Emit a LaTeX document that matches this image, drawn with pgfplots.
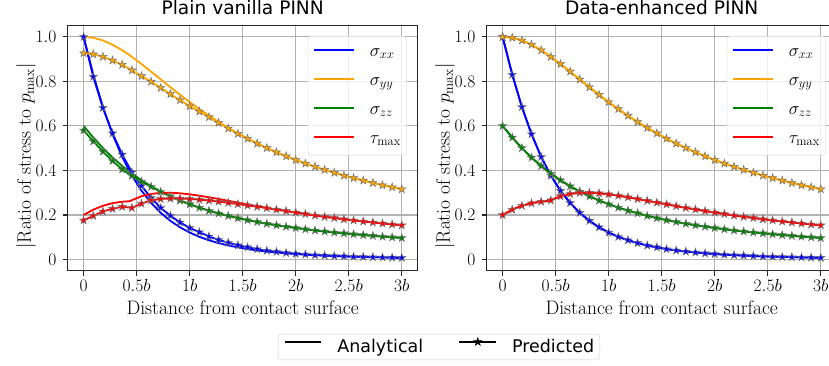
\RequirePackage{fix-cm}
\documentclass[border=0pt]{standalone}
\usepackage{fontspec}
\usepackage{pgfplots}
\usepackage{pgfplotstable}
\pgfplotsset{compat=1.18}
\newfontfamily\djv{DejaVu Sans}

\definecolor{cblue}{RGB}{0,0,255}
\definecolor{corange}{RGB}{255,165,0}
\definecolor{cgreen}{RGB}{0,128,0}
\definecolor{cred}{RGB}{255,0,0}

\pgfdeclareplotmark{fstar}{%
 \pgfpathmoveto{\pgfpointpolar{90}{\pgfplotmarksize}}%
 \pgfpathlineto{\pgfpointpolar{126}{0.382*\pgfplotmarksize}}%
 \pgfpathlineto{\pgfpointpolar{162}{\pgfplotmarksize}}%
 \pgfpathlineto{\pgfpointpolar{198}{0.382*\pgfplotmarksize}}%
 \pgfpathlineto{\pgfpointpolar{234}{\pgfplotmarksize}}%
 \pgfpathlineto{\pgfpointpolar{270}{0.382*\pgfplotmarksize}}%
 \pgfpathlineto{\pgfpointpolar{306}{\pgfplotmarksize}}%
 \pgfpathlineto{\pgfpointpolar{342}{0.382*\pgfplotmarksize}}%
 \pgfpathlineto{\pgfpointpolar{18}{\pgfplotmarksize}}%
 \pgfpathlineto{\pgfpointpolar{54}{0.382*\pgfplotmarksize}}%
 \pgfpathclose
 \pgfusepathqfillstroke}

% analytical solution (with the kink point of tau_max)
\pgfplotstableread{
x sxx syy szz tau
0.000000 1.000000 1.000000 0.600000 0.200000
0.090909 0.830535 0.995893 0.547928 0.223982
0.181818 0.685284 0.983870 0.500746 0.241562
0.272727 0.562828 0.964764 0.458278 0.253243
0.363636 0.461062 0.939793 0.420257 0.259768
0.436500 0.392783 0.916494 0.392783 0.261856
0.454545 0.377461 0.910366 0.386348 0.266453
0.545455 0.309371 0.877896 0.356180 0.284263
0.636364 0.254230 0.843661 0.329367 0.294716
0.727273 0.209708 0.808736 0.305533 0.299514
0.818182 0.173803 0.773958 0.284328 0.300078
0.909091 0.144799 0.739940 0.265422 0.297571
1.000000 0.121320 0.707107 0.248528 0.292894
1.090909 0.102243 0.675725 0.233390 0.286741
1.181818 0.086663 0.645944 0.219782 0.279641
1.272727 0.073905 0.617827 0.207520 0.271961
1.363636 0.063382 0.591364 0.196424 0.263991
1.454545 0.054650 0.566529 0.186354 0.255940
1.545455 0.047377 0.543248 0.177188 0.247936
1.636364 0.041282 0.521450 0.168820 0.240084
1.727273 0.036145 0.501036 0.161154 0.232446
1.818182 0.031795 0.481918 0.154114 0.225062
1.909091 0.028116 0.464009 0.147638 0.217947
2.000000 0.024922 0.447214 0.141641 0.211146
2.090909 0.022198 0.431455 0.136096 0.204629
2.181818 0.019847 0.416655 0.130951 0.198404
2.272727 0.017794 0.402739 0.126160 0.192473
2.363636 0.016030 0.389640 0.121701 0.186805
2.454545 0.014473 0.377297 0.117531 0.181412
2.545455 0.013114 0.365653 0.113630 0.176270
2.636364 0.011915 0.354654 0.109971 0.171370
2.727273 0.010853 0.344254 0.106532 0.166701
2.818182 0.009907 0.334410 0.103295 0.162252
2.909091 0.009053 0.325081 0.100240 0.158014
3.000000 0.008328 0.316228 0.097367 0.153950
}\ana

% predicted, plain vanilla PINN
\pgfplotstableread{
x sxx syy szz tau
0.000000 1.000 0.927 0.580 0.176
0.090909 0.821 0.922 0.531 0.196
0.181818 0.681 0.911 0.485 0.216
0.272727 0.567 0.894 0.443 0.228
0.363636 0.472 0.875 0.405 0.237
0.454545 0.392 0.850 0.376 0.232
0.545455 0.331 0.824 0.350 0.251
0.636364 0.277 0.799 0.327 0.266
0.727273 0.232 0.771 0.304 0.272
0.818182 0.197 0.743 0.284 0.274
0.909091 0.167 0.716 0.265 0.274
1.000000 0.142 0.689 0.248 0.272
1.090909 0.123 0.665 0.233 0.269
1.181818 0.104 0.640 0.219 0.265
1.272727 0.088 0.614 0.207 0.260
1.363636 0.076 0.589 0.196 0.255
1.454545 0.064 0.565 0.186 0.249
1.545455 0.055 0.543 0.177 0.243
1.636364 0.047 0.521 0.169 0.237
1.727273 0.040 0.501 0.161 0.231
1.818182 0.035 0.482 0.154 0.224
1.909091 0.030 0.464 0.148 0.218
2.000000 0.026 0.447 0.142 0.211
2.090909 0.023 0.431 0.136 0.205
2.181818 0.020 0.417 0.131 0.198
2.272727 0.018 0.403 0.126 0.192
2.363636 0.016 0.390 0.122 0.187
2.454545 0.015 0.377 0.118 0.181
2.545455 0.013 0.366 0.114 0.176
2.636364 0.012 0.355 0.110 0.171
2.727273 0.011 0.344 0.107 0.167
2.818182 0.010 0.334 0.103 0.162
2.909091 0.009 0.325 0.100 0.158
3.000000 0.008 0.316 0.097 0.154
}\predL

% predicted, data-enhanced PINN
\pgfplotstableread{
x sxx syy szz tau
0.000000 1.000 1.000 0.600 0.200
0.090909 0.830 0.996 0.548 0.224
0.181818 0.685 0.984 0.501 0.242
0.272727 0.563 0.965 0.458 0.253
0.363636 0.461 0.940 0.420 0.260
0.454545 0.377 0.910 0.386 0.266
0.545455 0.309 0.878 0.356 0.284
0.636364 0.254 0.844 0.329 0.295
0.727273 0.210 0.809 0.306 0.300
0.818182 0.174 0.774 0.284 0.300
0.909091 0.145 0.740 0.265 0.298
1.000000 0.121 0.707 0.249 0.293
1.090909 0.102 0.676 0.233 0.287
1.181818 0.087 0.646 0.220 0.280
1.272727 0.074 0.618 0.208 0.272
1.363636 0.063 0.591 0.196 0.264
1.454545 0.055 0.567 0.186 0.256
1.545455 0.047 0.543 0.177 0.248
1.636364 0.041 0.521 0.169 0.240
1.727273 0.036 0.501 0.161 0.232
1.818182 0.032 0.482 0.154 0.225
1.909091 0.028 0.464 0.148 0.218
2.000000 0.025 0.447 0.142 0.211
2.090909 0.022 0.431 0.136 0.205
2.181818 0.020 0.417 0.131 0.198
2.272727 0.018 0.403 0.126 0.192
2.363636 0.016 0.390 0.122 0.187
2.454545 0.014 0.377 0.118 0.181
2.545455 0.013 0.366 0.114 0.176
2.636364 0.012 0.355 0.110 0.171
2.727273 0.011 0.344 0.107 0.167
2.818182 0.010 0.334 0.103 0.162
2.909091 0.009 0.325 0.100 0.158
3.000000 0.008 0.316 0.097 0.154
}\predR

\pgfplotsset{
  myax/.style={
    scale only axis, width=350pt, height=245pt,
    xmin=-0.15, xmax=3.15, ymin=-0.05, ymax=1.05,
    xtick={0,0.5,1,1.5,2,2.5,3},
    xticklabels={$0$,$0.5b$,$1b$,$1.5b$,$2b$,$2.5b$,$3b$},
    ytick={0,0.2,0.4,0.6,0.8,1.0},
    yticklabels={$0$,$0.2$,$0.4$,$0.6$,$0.8$,$1.0$},
    grid=major, grid style={color=black!30, line width=1.1pt},
    axis line style={black!85, line width=1.1pt},
    tick align=outside, major tick length=5pt,
    tick style={black!85, line width=1.1pt},
    xtick pos=left, ytick pos=left,
    tick label style={font=\fontsize{17.5}{20}\selectfont, inner sep=0pt},
    xticklabel style={anchor=base, yshift=-16pt},
    yticklabel style={anchor=east, xshift=-6pt},
    label style={font=\fontsize{19.5}{23}\selectfont},
    xlabel={Distance from contact surface},
    ylabel={$\left|\mathrm{Ratio\ of\ stress\ to\ }p_{\max}\right|$},
    xlabel style={at={(axis description cs:0.5,-0.1808)}, anchor=base},
    ylabel style={at={(axis description cs:-0.105,0.468)}, anchor=base},
    title style={font=\djv\fontsize{18.6}{22}\selectfont, at={(axis description cs:0.5,1)}, anchor=base, yshift=5pt},
    legend cell align=left,
    legend style={at={(0.9686,0.958)}, anchor=north east,
      draw=black!20, rounded corners=3pt,
      fill=white, fill opacity=0.8, text opacity=1, draw opacity=1,
      font=\fontsize{18}{21}\selectfont,
      inner xsep=5.6pt, inner ysep=1.5pt, column sep=14.4pt, row sep=0pt,
      nodes={inner sep=0pt, text height=18.5pt, text depth=10.5pt}},
  },
  pred/.style={color=#1, line width=1.8pt, mark=fstar, mark size=4.3pt,
    mark options={solid, fill=#1, draw=black!55, line width=0.5pt}},
}

\begin{document}
\begin{tikzpicture}
\begin{axis}[myax, at={(67.7pt,95.3pt)}, anchor=south west, title={Plain vanilla PINN},
  legend image code/.code={\draw[#1] (0pt,2pt) -- (40pt,2pt);}]
\addplot[color=cblue, line width=1.8pt, no markers] table[x=x, y=sxx]{\ana}; \addlegendentry{$\sigma_{xx}$}
\addplot[pred=cblue, forget plot] table[x=x, y=sxx]{\predL};
\addplot[color=corange, line width=1.8pt, no markers] table[x=x, y=syy]{\ana}; \addlegendentry{$\sigma_{yy}$}
\addplot[pred=corange, forget plot] table[x=x, y=syy]{\predL};
\addplot[color=cgreen, line width=1.8pt, no markers] table[x=x, y=szz]{\ana}; \addlegendentry{$\sigma_{zz}$}
\addplot[pred=cgreen, forget plot] table[x=x, y=szz]{\predL};
\addplot[color=cred, line width=1.8pt, no markers] table[x=x, y=tau]{\ana}; \addlegendentry{$\tau_{\max}$}
\addplot[pred=cred, forget plot] table[x=x, y=tau]{\predL};
\end{axis}

\begin{axis}[myax, at={(486.7pt,95.3pt)}, anchor=south west, title={Data-enhanced PINN},
  legend image code/.code={\draw[#1] (0pt,2pt) -- (40pt,2pt);}]
\addplot[color=cblue, line width=1.8pt, no markers] table[x=x, y=sxx]{\ana}; \addlegendentry{$\sigma_{xx}$}
\addplot[pred=cblue, forget plot] table[x=x, y=sxx]{\predR};
\addplot[color=corange, line width=1.8pt, no markers] table[x=x, y=syy]{\ana}; \addlegendentry{$\sigma_{yy}$}
\addplot[pred=corange, forget plot] table[x=x, y=syy]{\predR};
\addplot[color=cgreen, line width=1.8pt, no markers] table[x=x, y=szz]{\ana}; \addlegendentry{$\sigma_{zz}$}
\addplot[pred=cgreen, forget plot] table[x=x, y=szz]{\predR};
\addplot[color=cred, line width=1.8pt, no markers] table[x=x, y=tau]{\ana}; \addlegendentry{$\tau_{\max}$}
\addplot[pred=cred, forget plot] table[x=x, y=tau]{\predR};
\end{axis}

\begin{axis}[at={(281pt,7pt)}, anchor=south west, scale only axis,
  width=316pt, height=24pt, hide axis, xmin=0, xmax=1, ymin=0, ymax=1,
  legend columns=2, legend cell align=left,
  legend image code/.code={\draw[mark repeat=2, mark phase=2, #1] plot coordinates {(0pt,6pt) (18.35pt,6pt) (36.7pt,6pt)};},
  legend style={at={(0.5,0.5)}, anchor=center, draw=black!20,
    rounded corners=3pt, fill=white,
    font=\djv\fontsize{17.5}{21}\selectfont,
    inner xsep=5.7pt, inner ysep=3.5pt,
    nodes={inner sep=0pt, text height=13pt, text depth=4pt},
    /tikz/every odd column/.style={column sep=15pt},
    /tikz/every even column/.style={column sep=35.3pt}}]
\addlegendimage{black, line width=1.8pt}
\addlegendentry{Analytical}
\addlegendimage{black, line width=1.8pt, mark=fstar, mark size=4.3pt, mark options={solid, fill=black, draw=black, line width=0.4pt}}
\addlegendentry{Predicted}
\end{axis}

\pgfresetboundingbox
\path[use as bounding box] (0pt,0pt) rectangle (829pt,366pt);
\end{tikzpicture}
\end{document}
